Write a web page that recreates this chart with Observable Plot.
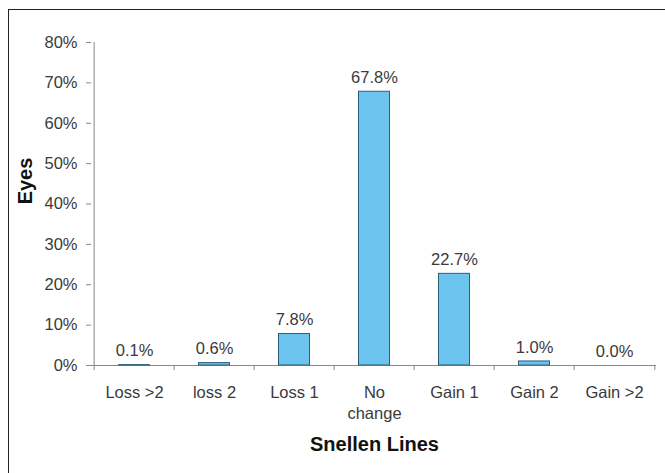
<!DOCTYPE html>
<html>
<head>
<meta charset="utf-8">
<script src="https://cdn.jsdelivr.net/npm/d3@7"></script>
<script src="https://cdn.jsdelivr.net/npm/@observablehq/plot@0.6"></script>
<style>
  html, body { margin: 0; padding: 0; background: #fff; }
  #wrap { position: relative; width: 665px; height: 473px; overflow: hidden; }
  #border { position: absolute; left: 8px; top: 9px; width: 680px; height: 480px; border: 1.5px solid #222; box-sizing: border-box; pointer-events: none; }
</style>
</head>
<body>
<div id="wrap"><div id="border"></div><div id="chart"></div></div>
<script>
const categories = ["Loss >2", "loss 2", "Loss 1", "No change", "Gain 1", "Gain 2", "Gain >2"];
const tickLabels = ["Loss >2", "loss 2", "Loss 1", "No\nchange", "Gain 1", "Gain 2", "Gain >2"];
const values = [0.001, 0.006, 0.078, 0.678, 0.227, 0.010, 0.000];
const valueLabels = ["0.1%", "0.6%", "7.8%", "67.8%", "22.7%", "1.0%", "0.0%"];
const yTicks = [0, 0.1, 0.2, 0.3, 0.4, 0.5, 0.6, 0.7, 0.8];
const xTitle = "Snellen Lines";
const yTitle = "Eyes";

const data = categories.map((c, i) => ({cat: c, tick: tickLabels[i], value: values[i], label: valueLabels[i]}));

const W = 665, H = 473;
const mL = 91, mR = 9, mT = 42, mB = 108;
const bw = (W - mL - mR) / categories.length;
const font = "Liberation Sans, Arial, sans-serif";
const textColor = "#3a3a3a";

const chart = Plot.plot({
  width: W,
  height: H,
  marginLeft: mL,
  marginRight: mR,
  marginTop: mT,
  marginBottom: mB,
  style: {fontFamily: font, background: "transparent"},
  x: {domain: categories, padding: 0, axis: null},
  y: {domain: [0, 0.8], axis: null},
  marks: [
    Plot.axisY({ticks: yTicks, tickFormat: d3.format(".0%"), tickSize: 5, tickPadding: 9, fontSize: 16.5, color: textColor, stroke: "#888", label: null}),
    Plot.ruleX([categories[0]], {x: d => d, y1: 0, y2: 0.8, dx: -bw / 2, stroke: "#888"}),
    Plot.ruleY([0], {stroke: "#888"}),
    Plot.ruleX(categories, {x: d => d, y1: 0, y2: 0, insetBottom: -5, dx: -bw / 2, stroke: "#888"}),
    Plot.ruleX([categories[categories.length - 1]], {x: d => d, y1: 0, y2: 0, insetBottom: -5, dx: bw / 2, stroke: "#888"}),
    Plot.barY(data, {x: "cat", y: "value", fill: "#6cc4ee", stroke: "#2d5f7a", strokeWidth: 1, insetLeft: 24.5, insetRight: 24.5}),
    Plot.text(data, {x: "cat", y: "value", text: "label", dy: -14, fontSize: 16.5, fill: textColor}),
    Plot.text(data, {x: "cat", y: 0, text: "tick", dy: 17, fontSize: 16.5, fill: textColor, lineAnchor: "top", lineHeight: 1.28}),
    Plot.text([xTitle], {x: () => categories[3], frameAnchor: "bottom", dy: 85, text: d => d, fontSize: 20, fontWeight: "bold", fill: "#111"}),
    Plot.text([yTitle], {frameAnchor: "left", textAnchor: "middle", dx: -66, dy: -23, rotate: -90, text: d => d, fontSize: 20, fontWeight: "bold", fill: "#111"})
  ]
});
document.getElementById("chart").appendChild(chart);
</script>
</body>
</html>
